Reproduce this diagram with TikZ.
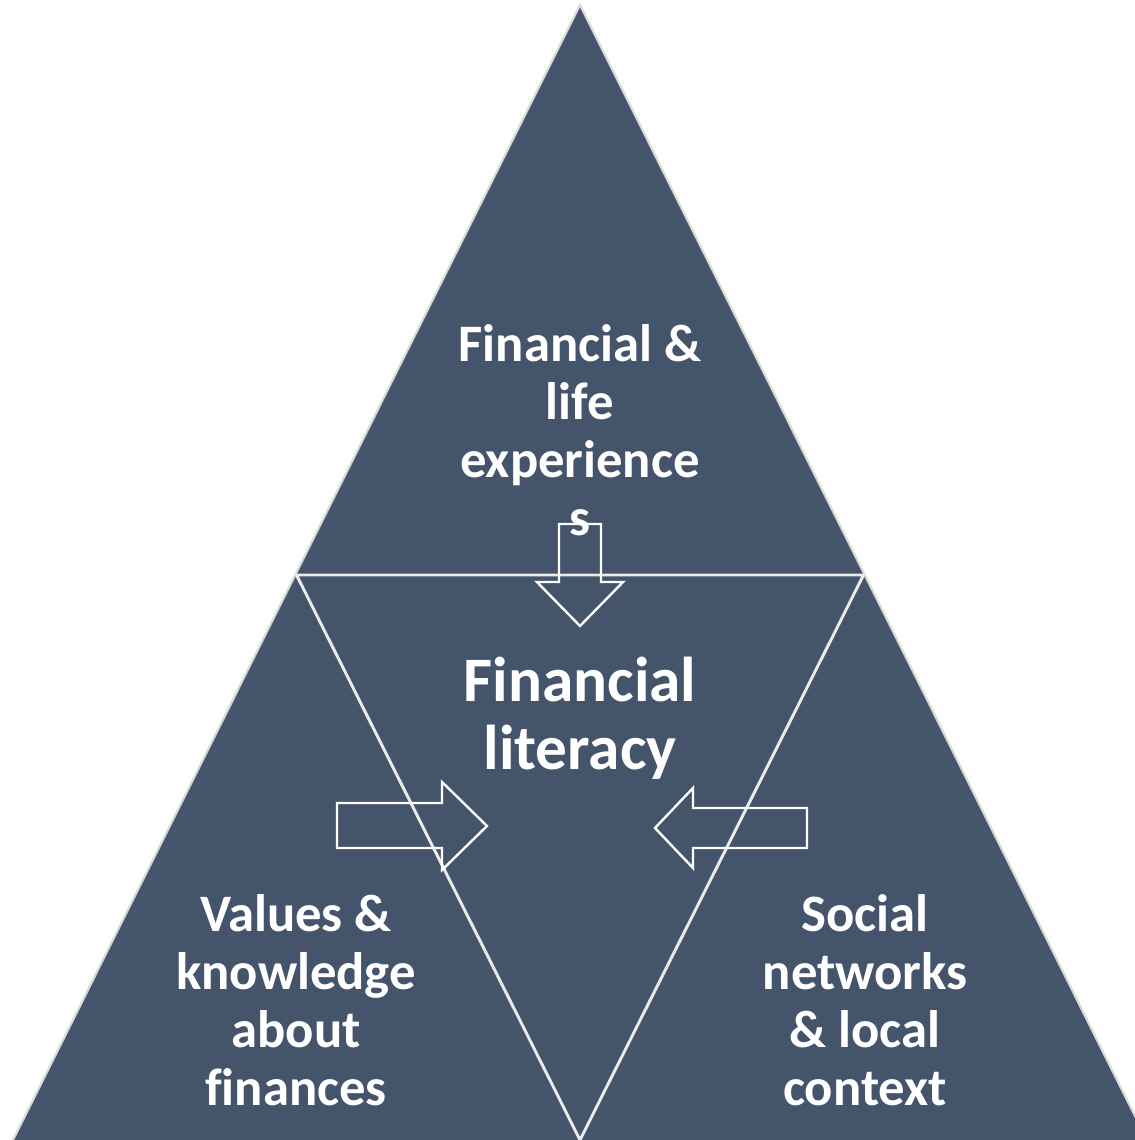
\documentclass[tikz,border=0pt]{standalone}
\usepackage{fontspec}
\setmainfont{Carlito}[Ligatures=NoCommon]
\definecolor{slate}{HTML}{44546A}
\definecolor{rim}{HTML}{D9D9D9}
\begin{document}
\begin{tikzpicture}[x=0.75pt,y=-0.75pt,
  rimline/.style={draw=rim,line width=1.6pt,line join=miter},
  splitline/.style={draw=white!92!black,line width=2.2pt},
  blockarrow/.style={draw=white,line width=1.8pt,line join=miter},
  label/.style={text=white,align=center,font=\bfseries\fontsize{39.5}{43.5}\selectfont,inner sep=0pt},
  mainlabel/.style={text=white,align=center,font=\bfseries\fontsize{47.5}{51}\selectfont,inner sep=0pt}]
\useasboundingbox (0,0) rectangle (1135,1140);
\begin{scope}
  \clip (0,0) rectangle (1135,1140);
  % outer triangle and its corner points (base runs just below the page edge)
  \coordinate (apex) at (580,5);
  \coordinate (bl) at (10,1146);
  \coordinate (br) at (1150,1146);
  \coordinate (ml) at (296.5,575);
  \coordinate (mr) at (863.5,575);
  \coordinate (mb) at (580,1140);
  \fill[slate] (apex) -- (bl) -- (br) -- cycle;
  \draw[rimline] (apex) -- (bl) -- (br) -- cycle;
  % inner triangle
  \draw[splitline] (ml) -- (mr) -- (mb) -- cycle;
\end{scope}
% block arrows pointing to the centre
\draw[blockarrow] (559,524) -- (601,524) -- (601,582) -- (623,582) -- (580,626)
  -- (537,582) -- (559,582) -- cycle;
\draw[blockarrow] (337,803) -- (442,803) -- (442,782) -- (487,826) -- (442,870)
  -- (442,848) -- (337,848) -- cycle;
\draw[blockarrow] (807,808) -- (693,808) -- (693,788) -- (655,828) -- (693,868)
  -- (693,848) -- (807,848) -- cycle;
% labels
\node[label] (top) at (580,430) {Financial \&\\life\\experience\\s};
\node[mainlabel] (centre) at (580,718) {Financial\\literacy};
\node[label] (left) at (296,1000) {Values \&\\knowledge\\about\\finances};
\node[label] (right) at (865,1000) {Social\\networks\\\& local\\context};
\end{tikzpicture}
\end{document}
